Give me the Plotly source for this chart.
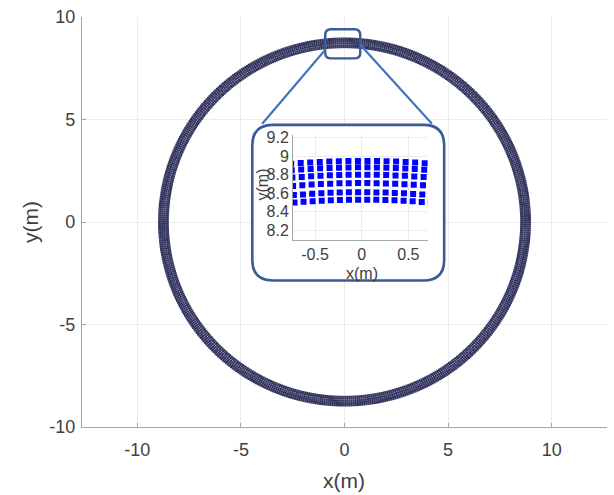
import numpy as np
import plotly.graph_objects as go

# ---- data ----
ring_radii = [8.53, 8.61, 8.71, 8.80, 8.88, 8.95]   # radial rows of the point grid (m)
points_per_ring = 550                               # angular columns
angle_offset = -0.0069                              # rad, column phase seen in the inset
x_ticks = [-10, -5, 0, 5, 10]
x_text = ["-10", "-5", "0", "5", "10"]
y_ticks = [-10, -5, 0, 5, 10]
y_text = ["-10", "-5", "0", "5", "10"]
inset_x_ticks = [-0.5, 0, 0.5]
inset_x_text = ["-0.5", "0", "0.5"]
inset_y_ticks = [8.2, 8.4, 8.6, 8.8, 9.0, 9.2]
inset_y_text = ["8.2", "8.4", "8.6", "8.8", "9", "9.2"]

theta = np.pi / 2 + angle_offset + np.arange(points_per_ring) * 2 * np.pi / points_per_ring
px, py = [], []
for r in ring_radii:
    px.append(r * np.cos(theta))
    py.append(r * np.sin(theta))
px = np.concatenate(px)
py = np.concatenate(py)

FONT = "Liberation Sans, Arial, sans-serif"
TXT = "#404040"
AX = "#a6a6a6"
GRID = "#ececec"

fig = go.Figure()
fig.add_trace(go.Scatter(x=px, y=py, mode="markers", xaxis="x", yaxis="y",
                         marker=dict(symbol="square", size=2.1, color="#34355f", line=dict(width=0)),
                         hoverinfo="skip", showlegend=False))
fig.add_trace(go.Scatter(x=px, y=py, mode="markers", xaxis="x2", yaxis="y2",
                         marker=dict(symbol="square", size=6, color="#0000ff", line=dict(width=0)),
                         hoverinfo="skip", showlegend=False, cliponaxis=True))


def rrect(x0, y0, x1, y1, r):
    return (f"M {x0+r},{y0} L {x1-r},{y0} Q {x1},{y0} {x1},{y0+r} "
            f"L {x1},{y1-r} Q {x1},{y1} {x1-r},{y1} L {x0+r},{y1} "
            f"Q {x0},{y1} {x0},{y1-r} L {x0},{y0+r} Q {x0},{y0} {x0+r},{y0} Z")

shapes = [
    dict(type="path", xref="x", yref="y", path=rrect(-4.45, -2.85, 4.81, 4.74, 1.0),
         fillcolor="white", line=dict(width=0), layer="between"),
    dict(type="path", xref="x", yref="y", path=rrect(-4.45, -2.85, 4.81, 4.74, 1.0),
         fillcolor="rgba(0,0,0,0)", line=dict(color="#3c5a98", width=2.6), layer="above"),
    dict(type="path", xref="x", yref="y", path=rrect(-0.93, 7.98, 0.76, 9.40, 0.28),
         fillcolor="rgba(0,0,0,0)", line=dict(color="#3c5a98", width=2.4), layer="above"),
    dict(type="line", xref="x", yref="y", x0=-0.93, y0=8.4, x1=-3.97, y1=4.79,
         line=dict(color="#4672c2", width=2.2), layer="above"),
    dict(type="line", xref="x", yref="y", x0=0.76, y0=8.65, x1=4.22, y1=4.79,
         line=dict(color="#4672c2", width=2.2), layer="above"),
]

annotations = [
    dict(text="x(m)", xref="paper", yref="paper", x=(344.3 - 82) / 525, y=(427 - 481) / 414,
         showarrow=False, font=dict(size=21, color=TXT, family=FONT), xanchor="center", yanchor="middle"),
    dict(text="y(m)", xref="paper", yref="paper", x=(30 - 82) / 525, y=(427 - 220) / 414,
         showarrow=False, textangle=-90, font=dict(size=21, color=TXT, family=FONT),
         xanchor="center", yanchor="middle"),
    dict(text="y(m)", xref="x", yref="y", x=-3.97, y=1.84, showarrow=False, textangle=-90,
         font=dict(size=16, color=TXT, family=FONT), xanchor="center", yanchor="middle"),
    dict(text="x(m)", xref="x", yref="y", x=0.85, y=-2.52, showarrow=False,
         font=dict(size=16, color=TXT, family=FONT), xanchor="center", yanchor="middle"),
]

fig.update_layout(
    width=614, height=495,
    margin=dict(l=82, r=7, t=13, b=68),
    paper_bgcolor="white", plot_bgcolor="white",
    font=dict(family=FONT, color=TXT),
    showlegend=False,
    xaxis=dict(range=[-12.67, 12.67], tickvals=x_ticks, ticktext=x_text, showgrid=True, gridcolor=GRID,
               zeroline=False, showline=True, linecolor=AX, linewidth=1.2, ticks="inside",
               ticklen=4, tickcolor=AX, tickfont=dict(size=18, color=TXT), ticklabelstandoff=6),
    yaxis=dict(range=[-10, 10], tickvals=y_ticks, ticktext=y_text, showgrid=True, gridcolor=GRID,
               zeroline=False, showline=True, linecolor=AX, linewidth=1.2, ticks="inside",
               ticklen=4, tickcolor=AX, tickfont=dict(size=18, color=TXT), ticklabelstandoff=2),
    xaxis2=dict(domain=[(293 - 82) / 525, (428 - 82) / 525], anchor="y2", range=[-0.736, 0.71],
                tickvals=inset_x_ticks, ticktext=inset_x_text, showgrid=True, gridcolor=GRID,
                zeroline=False, showline=True, linecolor=AX, linewidth=1, ticks="",
                tickfont=dict(size=16, color=TXT)),
    yaxis2=dict(domain=[(427 - 238) / 414, (427 - 131.7) / 414], anchor="x2", range=[8.095, 9.235],
                tickvals=inset_y_ticks, ticktext=inset_y_text, showgrid=True, gridcolor=GRID,
                zeroline=False, showline=True, linecolor=AX, linewidth=1, ticks="",
                tickfont=dict(size=16, color=TXT)),
    shapes=shapes,
    annotations=annotations,
)

fig.write_html("out.html")
